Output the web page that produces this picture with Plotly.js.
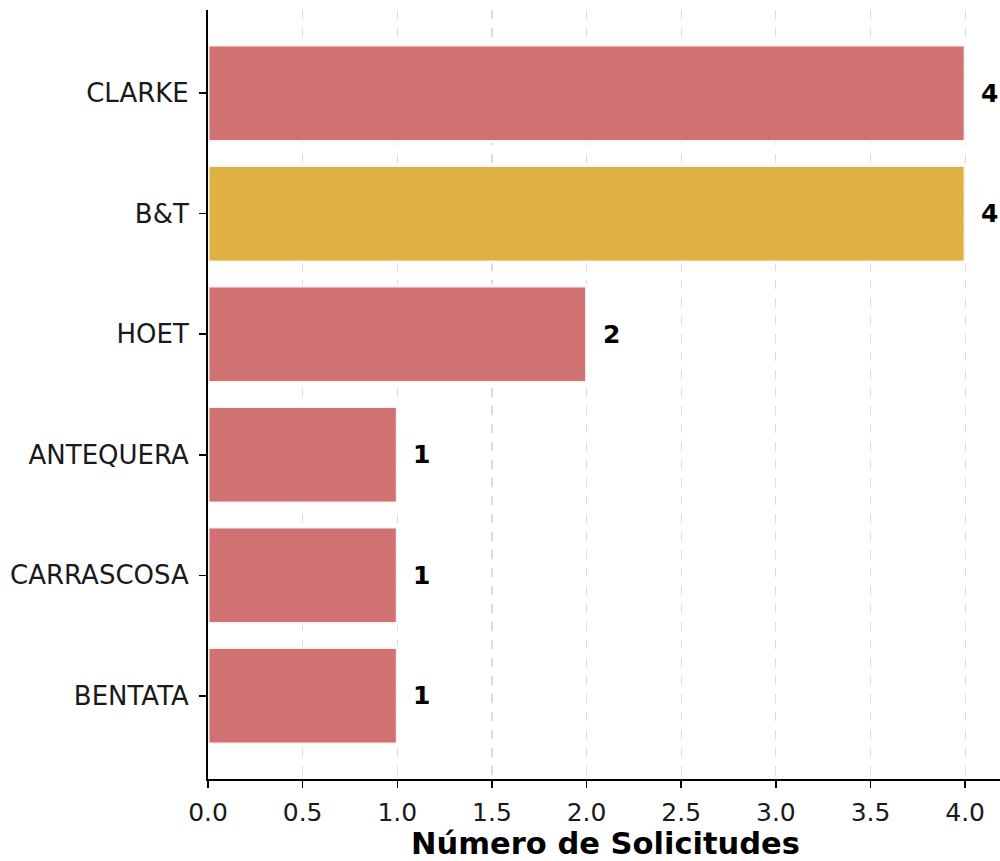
<!DOCTYPE html>
<html>
<head>
<meta charset="utf-8">
<script src="https://cdn.plot.ly/plotly-3.0.1.min.js"></script>
<style>
html,body{margin:0;padding:0;background:#fff;overflow:hidden;}
#wrap{width:1000px;height:861px;overflow:hidden;}
#chart{width:1003px;height:861px;}
</style>
</head>
<body>
<div id="wrap"><div id="chart"></div></div>
<script>
const categories = ["CLARKE", "B&T", "HOET", "ANTEQUERA", "CARRASCOSA", "BENTATA"];
const values = [4, 4, 2, 1, 1, 1];
const highlight = "B&T";
const xTickVals = [0, 0.5, 1, 1.5, 2, 2.5, 3, 3.5, 4];
const xTickText = ["0.0", "0.5", "1.0", "1.5", "2.0", "2.5", "3.0", "3.5", "4.0"];

const RED = "rgb(208,114,114)";
const GOLD = "rgb(222,177,66)";
const font = "DejaVu Sans, sans-serif";

const trace = {
  type: "bar",
  orientation: "h",
  x: values,
  y: categories,
  width: 0.8,
  marker: {
    color: categories.map(c => c === highlight ? GOLD : RED),
    line: {color: "rgba(255,255,255,0.9)", width: 3}
  },
  hoverinfo: "x+y",
  cliponaxis: false
};

const annotations = categories.map((c, i) => ({
  x: values[i] + 0.075,
  y: c,
  xref: "x",
  yref: "y",
  text: String(values[i]),
  showarrow: false,
  xanchor: "left",
  yanchor: "middle",
  font: {family: font, size: 25, color: "#000", weight: "bold"}
}));

const layout = {
  width: 1003,
  height: 861,
  margin: {l: 208, r: 0, t: 10, b: 82},
  paper_bgcolor: "#fff",
  plot_bgcolor: "#fff",
  showlegend: false,
  bargap: 0.2,
  xaxis: {
    range: [0, 4.2],
    tickvals: xTickVals,
    ticktext: xTickText,
    showline: true,
    linecolor: "#000",
    linewidth: 2,
    ticks: "outside",
    ticklen: 7,
    tickwidth: 1.5,
    tickcolor: "#000",
    ticklabelstandoff: 3,
    showgrid: true,
    gridcolor: "#dcdcdc",
    gridwidth: 1.2,
    griddash: "dash",
    zeroline: false,
    tickfont: {family: font, size: 25, color: "#1a1a1a"},
    title: {text: "Número de Solicitudes", font: {family: font, size: 30.5, color: "#000", weight: "bold"}, standoff: 7}
  },
  yaxis: {
    type: "category",
    range: [5.69, -0.69],
    showline: true,
    linecolor: "#000",
    linewidth: 2,
    ticks: "outside",
    ticklen: 7,
    tickwidth: 1.5,
    tickcolor: "#000",
    ticklabelstandoff: 5,
    showgrid: false,
    zeroline: false,
    tickfont: {family: font, size: 26, color: "#1a1a1a"}
  },
  annotations: annotations
};

Plotly.newPlot("chart", [trace], layout, {displayModeBar: false, staticPlot: true});
</script>
</body>
</html>
